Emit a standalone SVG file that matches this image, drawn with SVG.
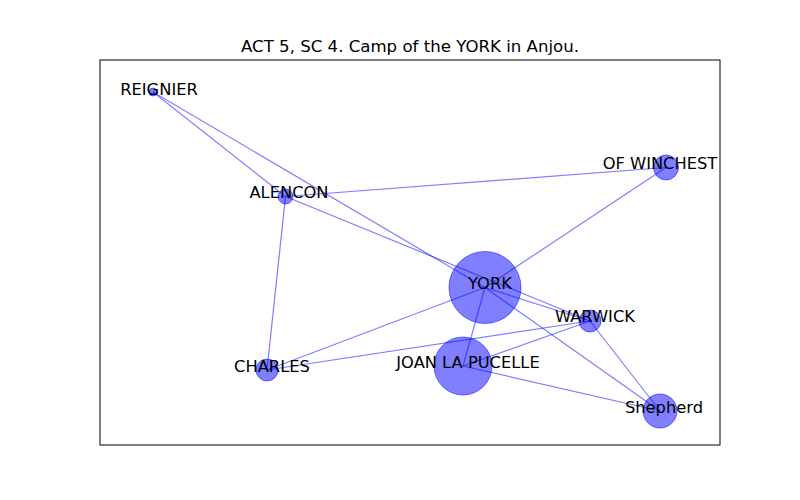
<svg xmlns="http://www.w3.org/2000/svg" width="800" height="500" viewBox="0 0 800 500">
<style>
.e{stroke:#0000ff;stroke-opacity:0.5;stroke-width:1.2;fill:none}
.n{fill:#0000ff;fill-opacity:0.5;stroke:#0000ff;stroke-opacity:0.5;stroke-width:1}
.l{font-family:"DejaVu Sans",sans-serif;font-size:16.3px;fill:#000;text-anchor:middle}
</style>
<rect width="800" height="500" fill="#fff"/>
<text x="410" y="52" class="l" style="font-size:16.6px">ACT 5, SC 4. Camp of the YORK in Anjou.</text>
<g id="connectors">
<line class="e" x1="153" y1="92" x2="285.5" y2="196.5"/>
<line class="e" x1="153" y1="92" x2="485" y2="287.5"/>
<line class="e" x1="285.5" y1="196.5" x2="666" y2="167.5"/>
<line class="e" x1="285.5" y1="196.5" x2="267" y2="370"/>
<line class="e" x1="285.5" y1="196.5" x2="590" y2="321"/>
<line class="e" x1="485" y1="287.5" x2="666" y2="167.5"/>
<line class="e" x1="485" y1="287.5" x2="590" y2="321"/>
<line class="e" x1="485" y1="287.5" x2="267" y2="370"/>
<line class="e" x1="485" y1="287.5" x2="463" y2="366"/>
<line class="e" x1="485" y1="287.5" x2="660" y2="411"/>
<line class="e" x1="267" y1="370" x2="590" y2="321"/>
<line class="e" x1="463" y1="366" x2="590" y2="321"/>
<line class="e" x1="463" y1="366" x2="660" y2="411"/>
<line class="e" x1="590" y1="321" x2="660" y2="411"/>
</g>
<g id="REIGNIER"><circle class="n" cx="153" cy="92" r="4"/><text class="l" x="159" y="95">REIGNIER</text></g>
<g id="ALENCON"><circle class="n" cx="285.5" cy="196.5" r="7.5"/><text class="l" x="289" y="198">ALENCON</text></g>
<g id="OF_WINCHEST"><circle class="n" cx="666" cy="167.5" r="12.5"/><text class="l" x="660" y="169">OF WINCHEST</text></g>
<g id="YORK"><circle class="n" cx="485" cy="287.5" r="36"/><text class="l" x="490" y="289">YORK</text></g>
<g id="WARWICK"><circle class="n" cx="590" cy="321" r="11"/><text class="l" x="595" y="322">WARWICK</text></g>
<g id="CHARLES"><circle class="n" cx="267" cy="370" r="11"/><text class="l" x="272" y="372">CHARLES</text></g>
<g id="JOAN_LA_PUCELLE"><circle class="n" cx="463" cy="366" r="29"/><text class="l" x="468" y="368">JOAN LA PUCELLE</text></g>
<g id="Shepherd"><circle class="n" cx="660" cy="411" r="17"/><text class="l" x="664" y="413">Shepherd</text></g>
<rect x="100" y="60" width="620" height="385" fill="none" stroke="#000" stroke-width="1"/>
</svg>
